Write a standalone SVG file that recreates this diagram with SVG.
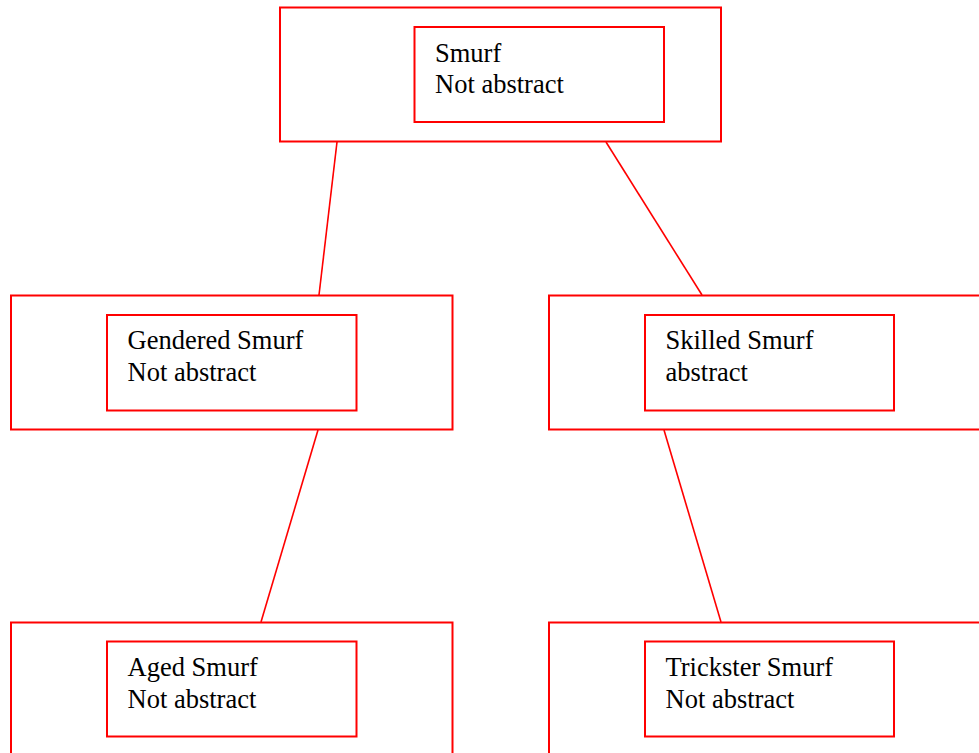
<svg xmlns="http://www.w3.org/2000/svg" width="979" height="753" viewBox="0 0 979 753">
<style>
.outer,.inner{fill:#fff;stroke:#ff0000;stroke-width:2}
.edge{stroke:#ff0000;stroke-width:1.6;fill:none}
text{font-family:"Liberation Serif","Times New Roman",serif;font-size:26.5px;fill:#000}
</style>
<rect width="979" height="753" fill="#fff"/>
<g id="connectors">
<line class="edge" x1="337" y1="142" x2="319" y2="295"/>
<line class="edge" x1="606" y1="142" x2="702" y2="295"/>
<line class="edge" x1="318" y1="430" x2="261" y2="622"/>
<line class="edge" x1="664" y1="430" x2="721" y2="622"/>
</g>
<g id="smurf">
<rect class="outer" x="280" y="7.5" width="441" height="134"/>
<rect class="inner" x="414.5" y="27" width="249.5" height="95"/>
<text x="435" y="61.5">Smurf</text>
<text x="435" y="92.5">Not abstract</text>
</g>
<g id="gendered">
<rect class="outer" x="11" y="295.5" width="441.5" height="134"/>
<rect class="inner" x="107" y="315" width="249.5" height="95.5"/>
<text x="127.5" y="349">Gendered Smurf</text>
<text x="127.5" y="381">Not abstract</text>
</g>
<g id="skilled">
<rect class="outer" x="549" y="295.5" width="441.5" height="134"/>
<rect class="inner" x="645" y="315" width="249" height="95.5"/>
<text x="665.5" y="349">Skilled Smurf</text>
<text x="665.5" y="381">abstract</text>
</g>
<g id="aged">
<rect class="outer" x="11" y="622.5" width="441.5" height="134"/>
<rect class="inner" x="107" y="641.5" width="249.5" height="95"/>
<text x="127.5" y="675.5">Aged Smurf</text>
<text x="127.5" y="707.5">Not abstract</text>
</g>
<g id="trickster">
<rect class="outer" x="549" y="622.5" width="441.5" height="134"/>
<rect class="inner" x="645" y="641.5" width="249" height="95"/>
<text x="665.5" y="675.5">Trickster Smurf</text>
<text x="665.5" y="707.5">Not abstract</text>
</g>
</svg>
